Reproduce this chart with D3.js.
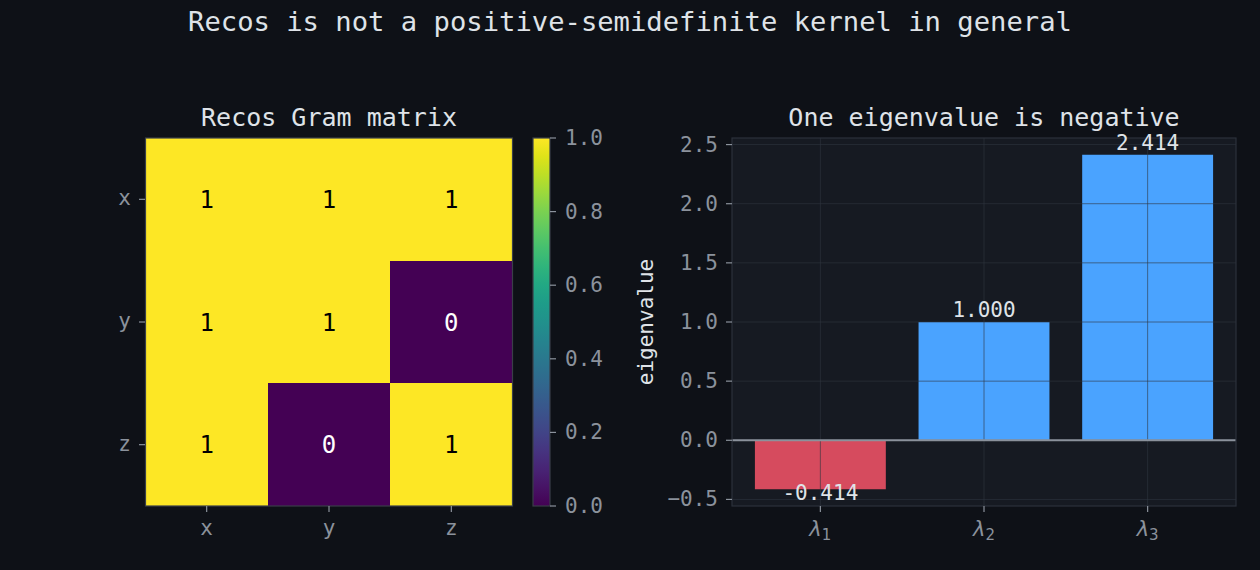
<!DOCTYPE html>
<html><head><meta charset="utf-8">
<script src="https://cdn.jsdelivr.net/npm/d3@7"></script>
<style>
html,body{margin:0;padding:0;background:#0e1117;}
svg{display:block;}
text{font-family:"DejaVu Sans Mono",monospace;}
</style></head>
<body>
<script>
// ---- data ----
const rowLabels = ["x","y","z"];
const colLabels = ["x","y","z"];
const gram = [[1,1,1],[1,1,0],[1,0,1]];
const cbarTicks = [0,0.2,0.4,0.6,0.8,1.0];
const eigNames = ["1","2","3"];
const eigValues = [-0.414, 1.000, 2.414];
const eigTicks = [-0.5,0,0.5,1.0,1.5,2.0,2.5];

const W=1260,H=570;
const bg="#0e1117", axBg="#161a22", tickCol="#8b929c", textCol="#dfe3e8", spine="#2c313b";
const svg=d3.select("body").append("svg").attr("width",W).attr("height",H);
svg.append("rect").attr("width",W).attr("height",H).attr("fill",bg);
const defs=svg.append("defs");

svg.append("text").attr("x",630).attr("y",31).attr("text-anchor","middle")
  .attr("font-size",27.2).attr("fill",textCol).text("Recos is not a positive-semidefinite kernel in general");

// ---- heatmap ----
const hx=d3.scaleBand().domain(colLabels).range([145.5,512.5]);
const hy=d3.scaleBand().domain(rowLabels).range([138,506]);
const vir=d3.interpolateViridis;
defs.append("clipPath").attr("id","hclip").append("rect")
  .attr("x",145.5).attr("y",138).attr("width",367).attr("height",368);
const g1=svg.append("g");
const cells=g1.append("g").attr("clip-path","url(#hclip)");
gram.forEach((row,i)=>row.forEach((v,j)=>{
  cells.append("rect").attr("x",hx(colLabels[j])).attr("y",hy(rowLabels[i]))
    .attr("width",hx.bandwidth()+1).attr("height",hy.bandwidth()+1).attr("fill",vir(v))
    .attr("shape-rendering","crispEdges");
}));
gram.forEach((row,i)=>row.forEach((v,j)=>{
  g1.append("text").attr("x",hx(colLabels[j])+hx.bandwidth()/2).attr("y",hy(rowLabels[i])+hy.bandwidth()/2+8.5)
    .attr("text-anchor","middle").attr("font-size",24).attr("fill",v>0.5?"#000":"#fff").text(v);
}));
g1.append("rect").attr("x",145.5).attr("y",138).attr("width",367).attr("height",368)
  .attr("fill","none").attr("stroke","#3a3f48").attr("stroke-width",1.2);
rowLabels.forEach(r=>{
  const y=hy(r)+hy.bandwidth()/2;
  g1.append("line").attr("x1",139).attr("x2",145).attr("y1",y).attr("y2",y).attr("stroke",tickCol).attr("stroke-width",1.2);
  g1.append("text").attr("x",131).attr("y",y+6).attr("text-anchor","end").attr("font-size",21).attr("fill",tickCol).text(r);
});
colLabels.forEach(c=>{
  const x=hx(c)+hx.bandwidth()/2;
  g1.append("line").attr("x1",x).attr("x2",x).attr("y1",506).attr("y2",512).attr("stroke",tickCol).attr("stroke-width",1.2);
  g1.append("text").attr("x",x).attr("y",535).attr("text-anchor","middle").attr("font-size",21).attr("fill",tickCol).text(c);
});
g1.append("text").attr("x",329).attr("y",126).attr("text-anchor","middle").attr("font-size",25).attr("fill",textCol).text("Recos Gram matrix");

// colorbar
const lg=defs.append("linearGradient").attr("id","vir").attr("x1","0").attr("y1","1").attr("x2","0").attr("y2","0");
d3.range(0,1.0001,0.05).forEach(t=>lg.append("stop").attr("offset",t).attr("stop-color",vir(t)));
const cy=d3.scaleLinear().domain([0,1]).range([506,138]);
svg.append("rect").attr("x",533).attr("y",138).attr("width",17).attr("height",368).attr("fill","url(#vir)")
  .attr("stroke","#3a3f48").attr("stroke-width",1.2);
cbarTicks.forEach(t=>{
  svg.append("line").attr("x1",550).attr("x2",556).attr("y1",cy(t)).attr("y2",cy(t)).attr("stroke",tickCol).attr("stroke-width",1.2);
  svg.append("text").attr("x",565).attr("y",cy(t)+7).attr("font-size",21).attr("fill",tickCol).text(t.toFixed(1));
});

// ---- bar chart ----
const bx=d3.scaleLinear().domain([-0.54,2.54]).range([732,1236]);
const by=d3.scaleLinear().domain([-0.5556,2.5556]).range([506,138]);
const g2=svg.append("g");
g2.append("rect").attr("x",732).attr("y",138).attr("width",504).attr("height",368).attr("fill",axBg);
eigValues.forEach((v,i)=>{
  g2.append("rect").attr("x",bx(i-0.4)).attr("width",bx(i+0.4)-bx(i-0.4))
    .attr("y",by(Math.max(v,0))).attr("height",Math.abs(by(v)-by(0)))
    .attr("fill",v<0?"#d64b5e":"#4aa3ff");
});
// grid on top
eigTicks.forEach(t=>{
  g2.append("line").attr("x1",732).attr("x2",1236).attr("y1",by(t)).attr("y2",by(t))
    .attr("stroke","#2f3540").attr("stroke-opacity",0.6).attr("stroke-width",1);
});
eigValues.forEach((v,i)=>{
  g2.append("line").attr("x1",bx(i)).attr("x2",bx(i)).attr("y1",138).attr("y2",506)
    .attr("stroke","#2f3540").attr("stroke-opacity",0.6).attr("stroke-width",1);
});
g2.append("line").attr("x1",732).attr("x2",1236).attr("y1",by(0)).attr("y2",by(0)).attr("stroke","#8b929c").attr("stroke-width",2);
g2.append("rect").attr("x",732).attr("y",138).attr("width",504).attr("height",368).attr("fill","none").attr("stroke",spine).attr("stroke-width",1.2);
eigValues.forEach((v,i)=>{
  g2.append("text").attr("x",bx(i)).attr("y",v>=0?by(v)-5:by(v)+11).attr("text-anchor","middle")
    .attr("font-size",21).attr("fill",textCol).text(v.toFixed(3));
});
eigTicks.forEach(t=>{
  g2.append("line").attr("x1",726).attr("x2",732).attr("y1",by(t)).attr("y2",by(t)).attr("stroke",tickCol).attr("stroke-width",1.2);
  g2.append("text").attr("x",718).attr("y",by(t)+7).attr("text-anchor","end").attr("font-size",21).attr("fill",tickCol)
    .text(t<0?"\u2212"+Math.abs(t).toFixed(1):t.toFixed(1));
});
eigNames.forEach((n,i)=>{
  g2.append("line").attr("x1",bx(i)).attr("x2",bx(i)).attr("y1",506).attr("y2",512).attr("stroke",tickCol).attr("stroke-width",1.2);
  const t=g2.append("text").attr("x",bx(i)).attr("y",536).attr("text-anchor","middle").attr("fill",tickCol);
  t.append("tspan").attr("font-family","DejaVu Sans").attr("font-style","italic").attr("font-size",21).text("\u03bb");
  t.append("tspan").attr("font-family","DejaVu Sans").attr("font-size",15).attr("dy",4).text(n);
});
g2.append("text").attr("transform","translate(653,322) rotate(-90)").attr("text-anchor","middle")
  .attr("font-size",21).attr("fill",textCol).text("eigenvalue");
g2.append("text").attr("x",984).attr("y",126).attr("text-anchor","middle").attr("font-size",25).attr("fill",textCol).text("One eigenvalue is negative");
</script>
</body></html>
